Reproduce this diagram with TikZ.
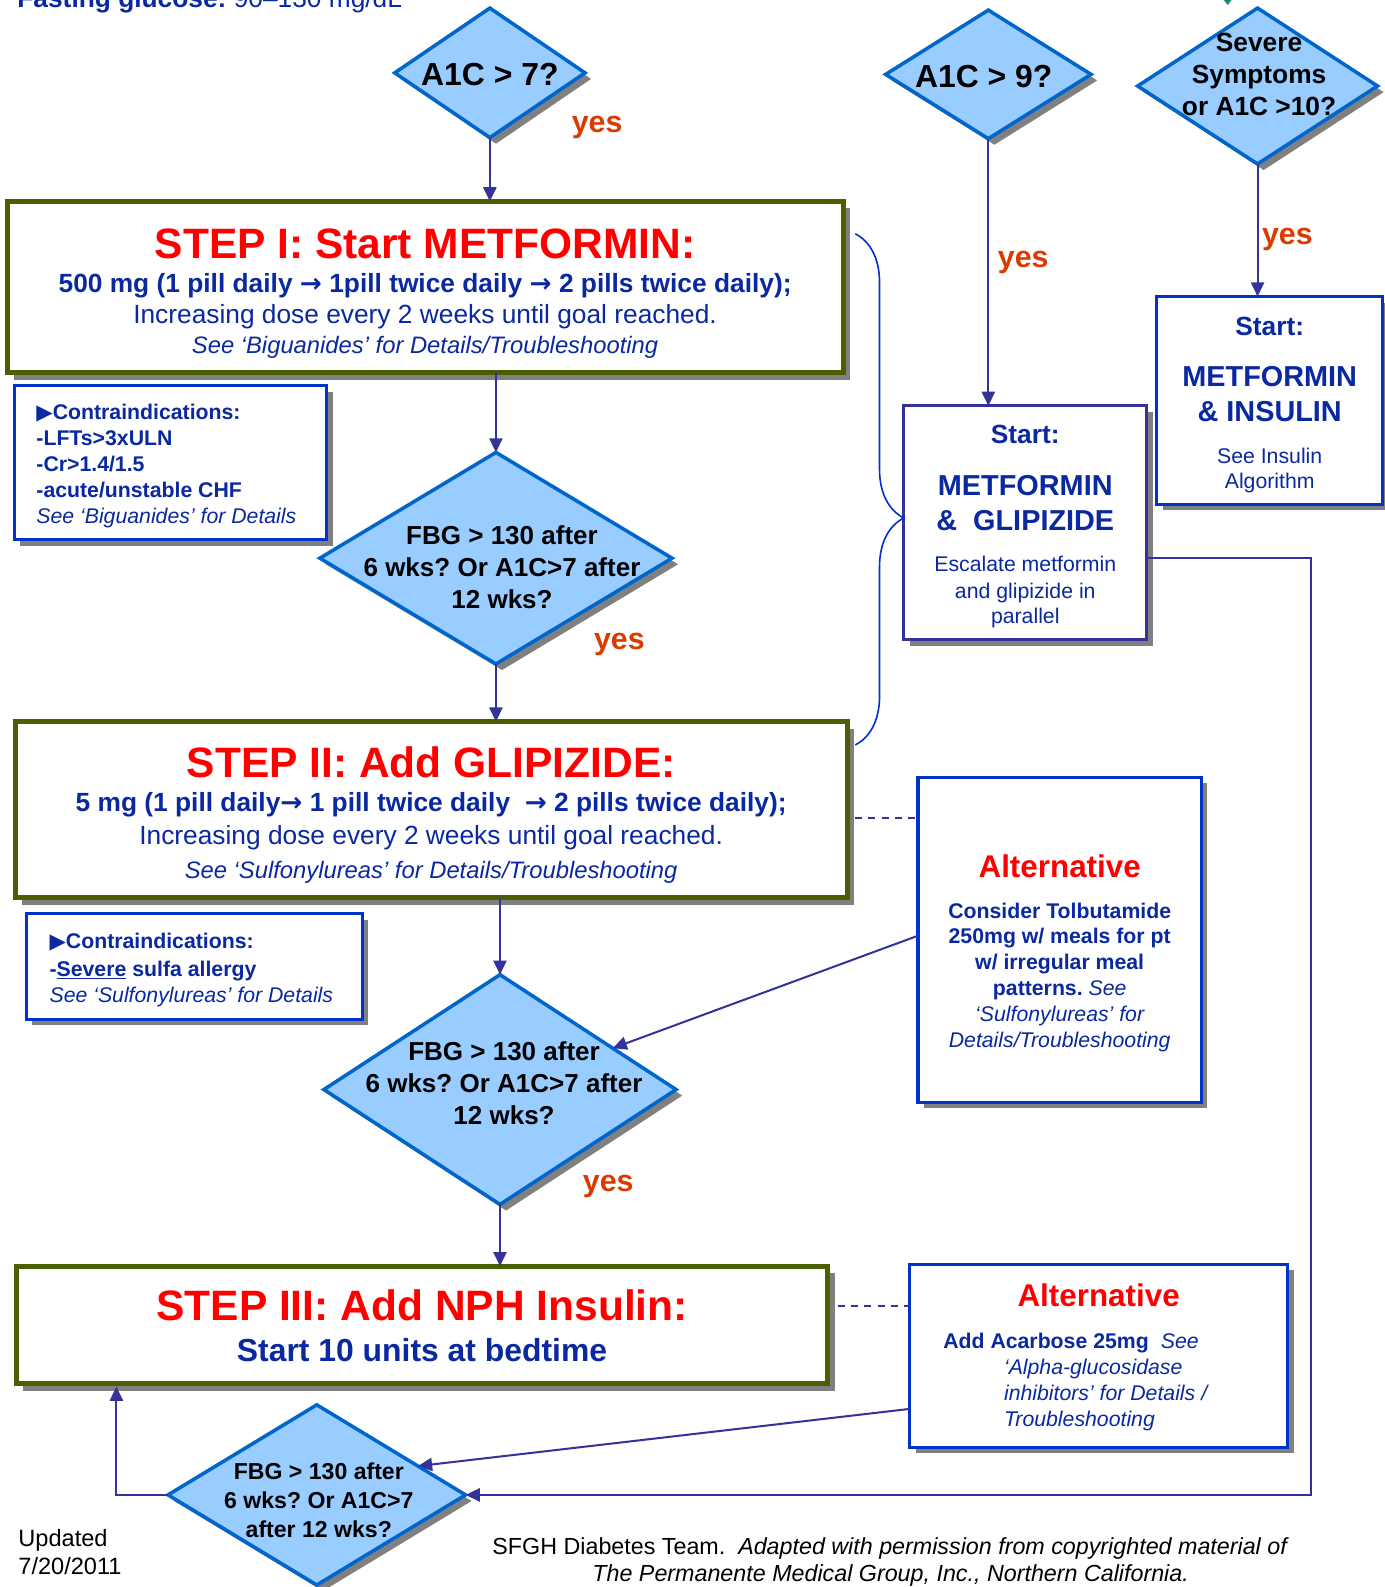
\documentclass[tikz,border=0pt]{standalone}
\usepackage{fontspec}
\setmainfont{Liberation Sans}
\newfontfamily\symfont{DejaVu Sans}
\usepackage{tikz}
\usetikzlibrary{shapes.geometric, positioning, calc, arrows.meta, shadows, decorations.pathreplacing}

\definecolor{txtblue}{RGB}{10,40,160}
\definecolor{lineblue}{RGB}{51,51,153}
\definecolor{boxblue}{RGB}{0,51,204}
\definecolor{diafill}{RGB}{153,204,255}
\definecolor{diaborder}{RGB}{0,102,204}
\definecolor{stepolive}{RGB}{74,96,0}
\definecolor{yesorange}{RGB}{221,58,0}
\definecolor{shadowgray}{RGB}{128,128,128}
\definecolor{tealmark}{RGB}{20,140,120}

% font size + plain word spaces of that size (no stretch)
\newcommand{\fsz}[2]{\fontsize{#1}{#2}\selectfont\spaceskip=\fontdimen2\font\relax\xspaceskip=\spaceskip}
\newcommand{\ra}{{\symfont\char"2192}}
\newcommand{\tri}{{\symfont\char"25B6}}
\setlength{\parindent}{0pt}

\tikzset{
  conn/.style={line width=2pt, draw=lineblue},
  arr/.style={conn, -{Triangle[length=14pt, width=13pt]}},
  altlink/.style={conn, dash pattern=on 7pt off 6pt},
  bracelink/.style={line width=1.6pt, draw=boxblue},
  decision/.style={diamond, draw=diaborder, line width=3.5pt, fill=diafill, inner sep=0pt, outer sep=0pt,
    drop shadow={shadow xshift=6pt, shadow yshift=-6pt, fill=shadowgray, opacity=1}},
  qtext/.style={anchor=base, align=center, inner sep=0pt, text=black},
  stepbox/.style={rectangle, draw=stepolive, line width=5pt, fill=white, inner sep=0pt, outer sep=0pt,
    align=center, text=txtblue,
    drop shadow={shadow xshift=7pt, shadow yshift=-7pt, fill=shadowgray, opacity=1}},
  infobox/.style={rectangle, draw=boxblue, line width=3pt, fill=white, inner sep=0pt, outer sep=0pt,
    text=txtblue,
    drop shadow={shadow xshift=6pt, shadow yshift=-6pt, fill=shadowgray, opacity=1}},
  yeslbl/.style={anchor=base, inner sep=0pt, text=yesorange, font=\fsz{30}{30}\bfseries},
}

\begin{document}
\begin{tikzpicture}[x=1pt, y=-1pt]
    \useasboundingbox (0,0) rectangle (1368,1568);

    % --- Header (cut at the page top) ---
    \node[anchor=base west, inner sep=0pt, text=txtblue, font=\fsz{26}{30}] (hdr) at (17,7)
        {\textbf{Fasting glucose:} 90–130 mg/dL};
    \fill[tealmark] (1207,-3) -- (1219,-3) -- (1213,5) -- cycle;

    % --- Decisions (multi-line text sits on its last baseline) ---
    \node[decision, minimum width=188pt, minimum height=128pt] (q1) at (484,72) {};
    \node[qtext, font=\fsz{31.5}{31.5}\bfseries] (q1t) at (484,84) {A1C > 7?};
    \node[decision, minimum width=203pt, minimum height=127pt] (q4) at (976.5,73.5) {};
    \node[qtext, font=\fsz{31.5}{31.5}\bfseries] (q4t) at (972,86) {A1C > 9?};
    \node[decision, minimum width=237pt, minimum height=154pt] (q5) at (1242.5,85) {};
    \node[qtext, font=\fsz{26}{31.5}\bfseries] (q5t) at (1244,114) {Severe\\Symptoms\\or A1C >10?};
    \node[decision, minimum width=348pt, minimum height=209pt] (q2) at (490,551.5) {};
    \node[qtext, font=\fsz{25.7}{31.5}\bfseries] (q2t) at (496,601)
        {FBG > 130 after\\6 wks? Or A1C>7 after\\12 wks?};
    \node[decision, minimum width=348pt, minimum height=227pt] (q3) at (494,1076.5) {};
    \node[qtext, font=\fsz{25.7}{31.5}\bfseries] (q3t) at (498,1111)
        {FBG > 130 after\\6 wks? Or A1C>7 after\\12 wks?};
    \node[decision, minimum width=294pt, minimum height=178pt] (q6) at (313,1477) {};
    \node[qtext, font=\fsz{22.8}{28.5}\bfseries] (q6t) at (315,1519)
        {FBG > 130 after\\6 wks? Or A1C>7\\after 12 wks?};

    % yes labels
    \node[yeslbl] (y1) at (590,131) {yes};
    \node[yeslbl] (y2) at (612,642) {yes};
    \node[yeslbl] (y3) at (601,1177) {yes};
    \node[yeslbl] (y4) at (1011,264) {yes};
    \node[yeslbl] (y5) at (1272,242) {yes};

    % --- Steps ---
    \node[stepbox, minimum width=826pt, minimum height=169pt, text width=816pt,
          text height=43pt, text depth=100pt] (s1) at (420,283.5) {%
        {\fsz{42}{42}\bfseries\textcolor{red}{STEP I: Start METFORMIN:}\par}
        {\fsz{26}{34}\bfseries 500 mg (1 pill daily \ra{} 1pill twice daily \ra{} 2 pills twice daily);\par}
        {\fsz{26}{31}Increasing dose every 2 weeks until goal reached.\par}
        {\fsz{23.5}{29}\itshape See ‘Biguanides’ for Details/Troubleshooting\par}};
    \node[stepbox, minimum width=822pt, minimum height=174pt, text width=812pt,
          text height=42pt, text depth=106pt] (s2) at (426,800) {%
        {\fsz{42}{42}\bfseries\textcolor{red}{STEP II: Add GLIPIZIDE:}\par}
        {\fsz{26}{34}\bfseries 5 mg (1 pill daily\ra{} 1 pill twice daily~ \ra{} 2 pills twice daily);\par}
        {\fsz{26}{32}Increasing dose every 2 weeks until goal reached.\par}
        {\fsz{23.5}{34}\itshape See ‘Sulfonylureas’ for Details/Troubleshooting\par}};
    \node[stepbox, minimum width=802pt, minimum height=116pt, text width=792pt,
          text height=38pt, text depth=46pt] (s3) at (417,1309) {%
        {\fsz{42}{42}\bfseries\textcolor{red}{STEP III: Add NPH Insulin:}\par}
        {\fsz{31.5}{40}\bfseries Start 10 units at bedtime\par}};

    % --- Contraindications ---
    \node[infobox, align=left, minimum width=309pt, minimum height=152pt, inner xsep=22pt,
          text width=265pt, text height=23pt, text depth=109pt] (ci1) at (168.5,457) {%
        {\fsz{21}{25.75}\bfseries\tri Contraindications:\par
         -LFTs>3xULN\par -Cr>1.4/1.5\par -acute/unstable CHF\par}
        {\fsz{21}{25.75}\itshape See ‘Biguanides’ for Details\par}};
    \node[infobox, align=left, minimum width=332pt, minimum height=104pt, inner xsep=23pt,
          text width=286pt, text height=23pt, text depth=59pt] (ci2) at (192,955) {%
        {\fsz{21}{28}\bfseries\tri Contraindications:\par
         -\underline{Severe} sulfa allergy\par}
        {\fsz{21}{25}\itshape See ‘Sulfonylureas’ for Details\par}};

    % --- Start boxes (right) ---
    \node[infobox, draw=lineblue, align=center, minimum width=240pt, minimum height=231pt,
          text width=230pt, text height=27pt, text depth=184pt] (mg) at (1013,516.5) {%
        {\fsz{26}{26}\bfseries Start:\par}
        {\fsz{28.5}{52}\bfseries METFORMIN\par}
        {\fsz{28.5}{34}\bfseries \&~ GLIPIZIDE\par}
        {\fsz{21}{41}Escalate metformin\par}
        {\fsz{21}{26}and glipizide in\par}
        {\fsz{21}{25}parallel\par}};
    \node[infobox, align=center, minimum width=223pt, minimum height=205pt,
          text width=215pt, text height=29pt, text depth=158pt] (mi) at (1254.5,395.5) {%
        {\fsz{26}{26}\bfseries Start:\par}
        {\fsz{28.5}{51}\bfseries METFORMIN\par}
        {\fsz{28.5}{34}\bfseries \& INSULIN\par}
        {\fsz{21}{42}See Insulin\par}
        {\fsz{21}{25}Algorithm\par}};

    % --- Alternatives ---
    \node[infobox, align=center, minimum width=280pt, minimum height=321pt,
          text width=270pt, text height=51pt, text depth=174pt] (a1) at (1047,928.5) {%
        {\fsz{31}{31}\bfseries\textcolor{red}{Alternative}\par}
        {\fsz{21}{40}\bfseries Consider Tolbutamide\par}
        {\fsz{21}{25.6}\bfseries 250mg w/ meals for pt\par w/ irregular meal\par
         patterns. \textmd{\textit{See}}\par}
        {\fsz{21}{25.6}\itshape ‘Sulfonylureas’ for\par Details/Troubleshooting\par}};
    \node[infobox, align=center, minimum width=373pt, minimum height=181pt, inner xsep=33pt,
          text width=307pt, text height=27pt, text depth=124pt] (a2) at (1085.5,1339.5) {%
        {\fsz{31}{31}\bfseries\textcolor{red}{Alternative}\par}
        {\fsz{21}{41}\raggedright\textbf{Add Acarbose 25mg}\hspace{12pt}\textit{See}\par}
        {\fsz{21}{25.7}\raggedright\leftskip=60pt\itshape ‘Alpha-glucosidase\par
         inhibitors’ for Details /\par Troubleshooting\par}};

    % --- Footer ---
    \node[anchor=base west, align=left, inner sep=0pt, font=\fsz{23.3}{28}] (upd) at (18,1556)
        {Updated\\7/20/2011};
    \node[anchor=base, align=center, inner sep=0pt, font=\fsz{23}{27}] (credit) at (880,1563)
        {SFGH Diabetes Team.~ \textit{Adapted with permission from copyrighted material of}\\
         \textit{The Permanente Medical Group, Inc., Northern California.}};

    % --- Connectors ---
    \draw[arr] (q1.south) -- (q1.south |- s1.north);
    \draw[arr] (q2.north |- s1.south) -- (q2.north);
    \draw[arr] (q2.south) -- (q2.south |- s2.north);
    \draw[arr] (q3.north |- s2.south) -- (q3.north);
    \draw[arr] (q3.south) -- (q3.south |- s3.north);
    \draw[arr] (q4.south) -- (q4.south |- mg.north);
    \draw[arr] (q5.south) -- (q5.south |- mi.north);
    % right-hand return to the last check
    \draw[arr] ([yshift=-34.5pt]mg.east) -- ++(162,0) |- (q6.east);
    \draw[arr] ([yshift=4pt]a1.west) -- ($(q3.north)!0.64!(q3.east)$);
    \draw[arr] ([yshift=-52.5pt]a2.west) -- ($(q6.north)!0.68!(q6.east)$);
    % loop back to Step III
    \draw[arr] (q6.west) -| ([xshift=99pt,yshift=-3pt]s3.south west);
    % dashed links to the alternatives
    \draw[altlink] ([xshift=8pt,yshift=-8pt]s2.east) -- ([yshift=-8pt]s2.east -| a1.west);
    \draw[altlink] ([xshift=10pt,yshift=19pt]s3.east) -- ([yshift=19pt]s3.east -| a2.west);
    % brace from Steps I--II to the combined start
    \draw[bracelink, decorate, decoration={brace, amplitude=48pt, aspect=0.556}]
        ([xshift=12pt,yshift=-32pt]s1.north east) -- ([xshift=8pt,yshift=-23pt]s2.north east);

\end{tikzpicture}
\end{document}
